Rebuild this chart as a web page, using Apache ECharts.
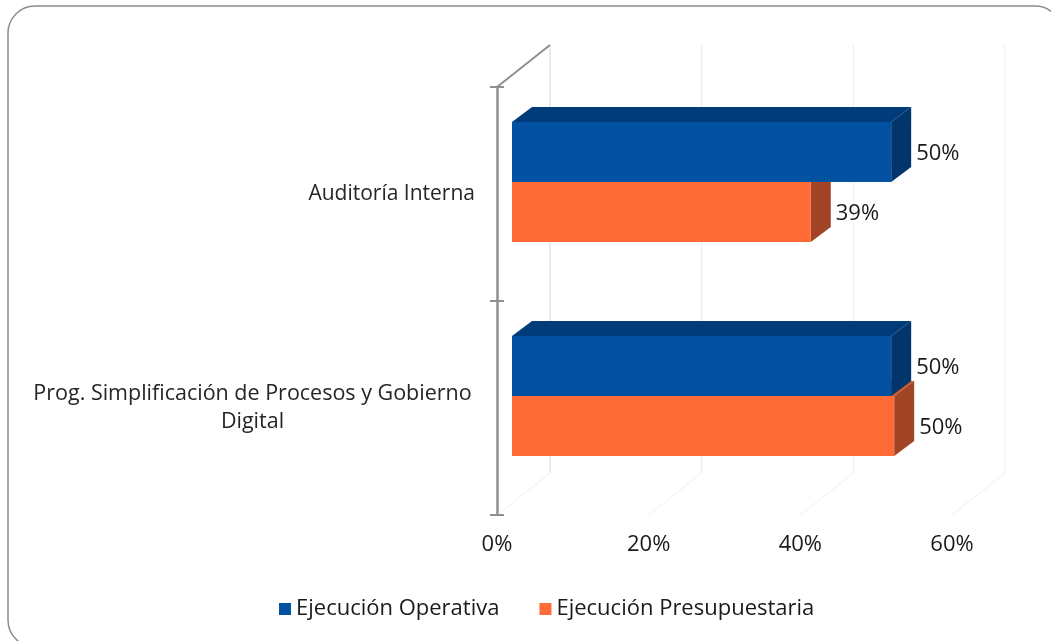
<!DOCTYPE html>
<html>
<head>
<meta charset="utf-8">
<script src="https://cdn.jsdelivr.net/npm/echarts@6/dist/echarts.min.js"></script>
<style>
  html, body { margin: 0; padding: 0; background: #fff; }
  #chart { width: 1051px; height: 641px; }
</style>
</head>
<body>
<div id="chart"></div>
<script>
// datos
var categories = ['Auditoría Interna', 'Prog. Simplificación de Procesos y Gobierno Digital'];
var operativa = [50.0, 50.0];
var presupuestaria = [39.4, 50.4];
var xTicks = [0, 20, 40, 60];
var seriesNames = ['Ejecución Operativa', 'Ejecución Presupuestaria'];

var FONT = '"Open Sans", Lato, sans-serif';
var DEPTH_X = 53, DEPTH_Y = -42;     // profundidad del "cubo" 3D
var BAR_DX = 20, BAR_DY = -15;       // profundidad de cada barra

var colores = {
    azul: { front: '#0351a1', top: '#003c7b', side: '#01356c' },
    naranja: { front: '#ff6b37', top: '#c4552c', side: '#a24426' }
};

function renderBar(c, dir) {
    return function (params, api) {
        var cat = api.value(1), val = api.value(0);
        var p0 = api.coord([0, cat]);
        var p1 = api.coord([val, cat]);
        var band = api.size([0, 1])[1];
        var h = band * 0.28;
        var x0 = p0[0] + 15, x1 = p1[0] + 15;
        var yc = p0[1] - 12;
        var yt = dir < 0 ? yc - h : yc;
        var yb = dir < 0 ? yc : yc + h;
        return {
            type: 'group',
            children: [
                { type: 'polygon', shape: { points: [[x0, yt], [x0 + BAR_DX, yt + BAR_DY], [x1 + BAR_DX, yt + BAR_DY], [x1, yt]] }, style: { fill: c.top } },
                { type: 'polygon', shape: { points: [[x1, yt], [x1 + BAR_DX, yt + BAR_DY], [x1 + BAR_DX, yb + BAR_DY], [x1, yb]] }, style: { fill: c.side } },
                { type: 'rect', shape: { x: x0, y: yt, width: x1 - x0, height: yb - yt }, style: { fill: c.front } },
                {
                    type: 'text',
                    style: {
                        text: Math.round(val) + '%', x: x1 + 25, y: (yt + yb) / 2 + 2,
                        align: 'left', verticalAlign: 'middle',
                        font: '22px ' + FONT, fill: '#1a1a1a'
                    }
                }
            ]
        };
    };
}

function renderFrame(params, api) {
    var cs = params.coordSys;
    var top = cs.y, bottom = cs.y + cs.height, left = cs.x;
    var kids = [];
    xTicks.forEach(function (t) {
        var x = api.coord([t, 0])[0];
        // líneas del fondo
        kids.push({ type: 'line', shape: { x1: x + DEPTH_X, y1: top + DEPTH_Y, x2: x + DEPTH_X, y2: bottom + DEPTH_Y }, style: { stroke: t === 0 ? '#d9d9d9' : '#ededed', lineWidth: 1 } });
        // piso
        kids.push({ type: 'line', shape: { x1: x, y1: bottom, x2: x + DEPTH_X, y2: bottom + DEPTH_Y }, style: { stroke: '#f0f0f0', lineWidth: 1 } });
    });
    // pared lateral
    kids.push({ type: 'line', shape: { x1: left, y1: top, x2: left + DEPTH_X, y2: top + DEPTH_Y }, style: { stroke: '#8f8f8f', lineWidth: 2 } });
    var band = cs.height / categories.length;
    for (var k = 0; k <= categories.length; k++) {
        var y = top + k * band;
        kids.push({ type: 'line', shape: { x1: left - 7, y1: y, x2: left + 7, y2: y }, style: { stroke: '#8f8f8f', lineWidth: 2 } });
    }
    return { type: 'group', children: kids };
}

var chart = echarts.init(document.getElementById('chart'));
var option = {
    backgroundColor: '#fff',
    animation: false,
    graphic: [{
        type: 'rect', z: -10, silent: true,
        shape: { x: 8, y: 6, width: 1054, height: 641, r: 27 },
        style: { fill: 'none', stroke: '#8c8c8c', lineWidth: 1.5 }
    }],
    grid: { left: 497, right: 99, top: 87, bottom: 126 },
    legend: {
        data: seriesNames,
        left: 274, top: 593,
        itemWidth: 12, itemHeight: 12, itemGap: 40,
        icon: 'rect',
        textStyle: { fontSize: 22, fontFamily: FONT, color: '#1a1a1a' }
    },
    xAxis: {
        type: 'value', min: 0, max: 60, interval: 20,
        axisLine: { show: false }, axisTick: { show: false }, splitLine: { show: false },
        axisLabel: { formatter: '{value}%', fontSize: 22, fontFamily: FONT, color: '#1a1a1a', margin: 19 }
    },
    yAxis: {
        type: 'category', data: categories, inverse: true,
        axisLine: { lineStyle: { color: '#8f8f8f', width: 2.5 } },
        axisTick: { show: false },
        axisLabel: {
            fontSize: 21, fontFamily: FONT, color: '#262626', margin: 22,
            formatter: function (v) {
                if (v.indexOf('Gobierno') > 0) {
                    return '{c|Prog. Simplificación de Procesos y Gobierno}\n{c|Digital}';
                }
                return v;
            },
            rich: { c: { width: 445, align: 'center', fontSize: 21.5, fontFamily: FONT, color: '#262626', lineHeight: 28 } }
        }
    },
    series: [
        {
            type: 'custom', name: 'frame', silent: true, z: 1,
            renderItem: renderFrame, data: [[0, 0]], encode: { x: 0, y: 1 }
        },
        {
            type: 'custom', name: seriesNames[1], z: 2,
            itemStyle: { color: colores.naranja.front },
            renderItem: renderBar(colores.naranja, 1),
            data: presupuestaria.map(function (v, i) { return [v, i]; }),
            encode: { x: 0, y: 1 }
        },
        {
            type: 'custom', name: seriesNames[0], z: 3,
            itemStyle: { color: colores.azul.front },
            renderItem: renderBar(colores.azul, -1),
            data: operativa.map(function (v, i) { return [v, i]; }),
            encode: { x: 0, y: 1 }
        }
    ]
};
chart.setOption(option);
</script>
</body>
</html>
